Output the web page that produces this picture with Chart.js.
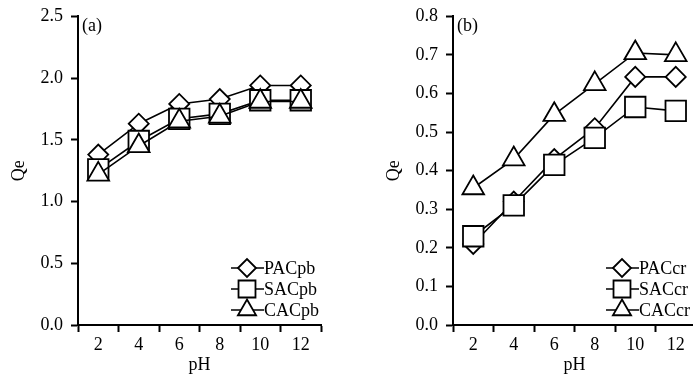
<!DOCTYPE html>
<html>
<head>
<meta charset="utf-8">
<script src="https://cdn.jsdelivr.net/npm/chart.js@4/dist/chart.umd.min.js"></script>
<style>
  html, body { margin: 0; padding: 0; background: #fff; }
  body { width: 693px; height: 385px; overflow: hidden; position: relative; }
  .panel { position: absolute; top: 0; width: 340px; height: 385px; }
  #panelA { left: 0; }
  #panelB { left: 375px; }
</style>
</head>
<body>
<div class="panel" id="panelA"><canvas id="chartA" width="340" height="385"></canvas></div>
<div class="panel" id="panelB"><canvas id="chartB" width="340" height="385"></canvas></div>
<script>
// pH values (x categories)
const phLabels = ['2', '4', '6', '8', '10', '12'];

// (a) lead adsorption
const pacPb = [1.38, 1.63, 1.79, 1.83, 1.94, 1.94];
const sacPb = [1.26, 1.49, 1.67, 1.71, 1.82, 1.82];
const cacPb = [1.22, 1.45, 1.65, 1.69, 1.81, 1.81];

// (b) chromium adsorption
const pacCr = [0.21, 0.32, 0.43, 0.51, 0.643, 0.643];
const sacCr = [0.23, 0.31, 0.415, 0.485, 0.565, 0.555];
const cacCr = [0.355, 0.43, 0.545, 0.625, 0.705, 0.70];

const serif = '"Liberation Serif", "DejaVu Serif", serif';

// legend drawn inside the plot: short line + marker + name
const innerLegend = {
    id: 'innerLegend',
    afterDraw(chart, args, opts) {
        const ctx = chart.ctx;
        const area = chart.chartArea;
        ctx.save();
        // panel tag
        ctx.font = '18px ' + serif;
        ctx.fillStyle = '#000';
        ctx.textBaseline = 'middle';
        ctx.textAlign = 'left';
        ctx.fillText(opts.tag, area.left + 4, area.top + 10);

        const rows = [-57, -36, -15];
        chart.data.datasets.forEach((ds, i) => {
            const cx = area.right - 74;
            const cy = area.bottom + rows[i];
            ctx.strokeStyle = '#000';
            ctx.lineWidth = 1.6;
            ctx.beginPath();
            ctx.moveTo(cx - 16, cy);
            ctx.lineTo(cx + 17, cy);
            ctx.stroke();
            ctx.fillStyle = '#fff';
            ctx.lineWidth = 1.8;
            Chart.helpers.drawPoint(ctx, {
                pointStyle: ds.pointStyle,
                radius: opts.radii[i],
                rotation: 0,
                borderWidth: 1.8
            }, cx, cy);
            ctx.fillStyle = '#000';
            ctx.font = '18px ' + serif;
            ctx.fillText(ds.label, cx + 17, cy + 1);
        });
        ctx.restore();
    }
};

function makeSeries(label, data, style, radius, order) {
    return {
        label: label,
        data: data,
        borderColor: '#000',
        borderWidth: 1.6,
        pointStyle: style,
        pointRadius: radius,
        pointHoverRadius: radius,
        pointBackgroundColor: '#fff',
        pointBorderColor: '#000',
        pointBorderWidth: 1.8,
        fill: false,
        tension: 0,
        order: order
    };
}

function makeChart(id, names, series, yMax, yStep, tag) {
    return new Chart(document.getElementById(id), {
        type: 'line',
        data: {
            labels: phLabels,
            datasets: [
                makeSeries(names[0], series[0], 'rectRot', 10, 3),
                makeSeries(names[1], series[1], 'rect', 14.5, 2),
                makeSeries(names[2], series[2], 'triangle', 12.5, 1)
            ]
        },
        options: {
            responsive: false,
            animation: false,
            layout: { padding: { top: 14, right: 19, left: 0, bottom: 0 } },
            plugins: {
                legend: { display: false },
                tooltip: { enabled: false },
                innerLegend: { tag: tag, radii: [9, 12, 10.5] }
            },
            scales: {
                x: {
                    type: 'category',
                    offset: true,
                    grid: {
                        offset: true,
                        drawOnChartArea: false,
                        drawTicks: true,
                        tickLength: 7,
                        tickWidth: 2,
                        tickColor: '#000'
                    },
                    border: { display: true, color: '#000', width: 2 },
                    ticks: { color: '#000', font: { family: serif, size: 18 }, padding: 2, maxRotation: 0 },
                    title: { display: true, text: 'pH', color: '#000', font: { family: serif, size: 18 }, padding: { bottom: 9 } },
                    afterFit(scale) { scale.height = 60; }
                },
                y: {
                    min: 0,
                    max: yMax,
                    ticks: {
                        stepSize: yStep,
                        color: '#000',
                        font: { family: serif, size: 18 },
                        padding: 8,
                        callback: v => Number(v).toFixed(1)
                    },
                    grid: {
                        drawOnChartArea: false,
                        tickLength: 7,
                        tickWidth: 2,
                        tickColor: '#000'
                    },
                    border: { display: true, color: '#000', width: 2 },
                    title: { display: true, text: 'Qe', color: '#000', font: { family: serif, size: 18 }, padding: { top: 8 } },
                    afterFit(scale) {
                        scale.width = 78;
                        scale.paddingTop = 0;
                        scale.paddingBottom = 0;
                    }
                }
            }
        },
        plugins: [innerLegend]
    });
}

makeChart('chartA', ['PACpb', 'SACpb', 'CACpb'], [pacPb, sacPb, cacPb], 2.5, 0.5, '(a)');
makeChart('chartB', ['PACcr', 'SACcr', 'CACcr'], [pacCr, sacCr, cacCr], 0.8, 0.1, '(b)');
</script>
</body>
</html>
